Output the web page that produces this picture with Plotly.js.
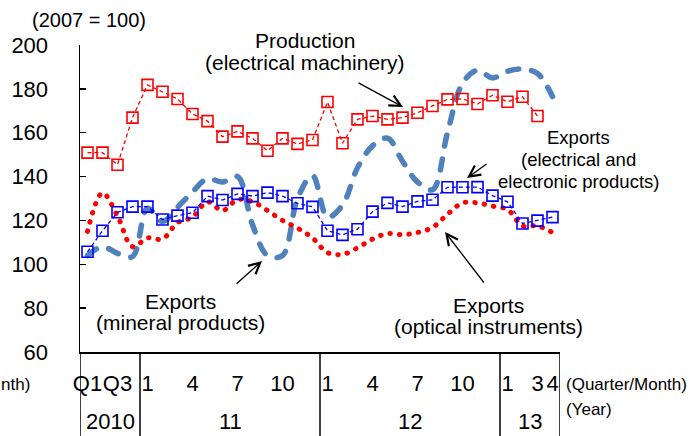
<!DOCTYPE html>
<html>
<head>
<meta charset="utf-8">
<script src="https://cdn.plot.ly/plotly-3.0.1.min.js"></script>
<style>
html,body{margin:0;padding:0;background:#fff;}
#chart{width:696px;height:436px;}
.tracemin .js-line, .traceopt .js-line { stroke-linecap: round; }
</style>
</head>
<body>
<div id="chart"></div>
<script>
// Periods: 2010 quarterly, then monthly 2011-01 .. 2013-04
const periods = [
  '2010Q1','2010Q2','2010Q3','2010Q4',
  '2011-01','2011-02','2011-03','2011-04','2011-05','2011-06','2011-07','2011-08','2011-09','2011-10','2011-11','2011-12',
  '2012-01','2012-02','2012-03','2012-04','2012-05','2012-06','2012-07','2012-08','2012-09','2012-10','2012-11','2012-12',
  '2013-01','2013-02','2013-03','2013-04'
];
// Production (electrical machinery) — ends March 2013
const production = [150.9,150.9,145.4,166.9,181.8,178.7,175.4,168.5,165.3,158.2,160.6,157.4,151.8,157.4,154.9,156.7,174.0,155.2,166.1,167.6,166.1,166.9,169.1,172.2,175.2,175.4,173.1,177.1,174.1,176.4,167.6];
// Exports (electrical and electronic products)
const electrical = [105.7,115.3,123.7,126.3,126.3,120.4,122.2,123.5,131.1,129.3,132.1,131.1,132.7,131.1,127.8,126.2,115.3,113.4,116.0,124.0,128.0,126.3,128.7,129.4,135.1,135.1,135.2,131.3,128.5,118.6,119.9,121.5];
// Exports (mineral products)
const mineral = [104,108,105,103.5,125.5,119.5,126,133,139,137.5,140,118,104,104,130,140.5,121.5,127,144,154,157.5,147,137.5,134,160,182.5,188.5,185,188,189,187,176.5];
// Exports (optical instruments)
const optical = [115,132.5,122,108,112,111.5,119,121.5,128.5,124.5,129.5,128.5,124.5,120,116.5,112,105.3,104.5,107.5,111.5,114,113.5,114.5,116.8,122.8,128,128,126.5,125,117.5,117.5,114.5];

const tickVals = ['2010Q1','2010Q3','2011-01','2011-04','2011-07','2011-10','2012-01','2012-04','2012-07','2012-10','2013-01','2013-03','2013-04'];
const tickText = ['Q1','Q3','1','4','7','10','1','4','7','10','1','3','4'];
const yTicks = [60,80,100,120,140,160,180,200];
const years = ['2010','11','12','13'];
const yearSizes = [4,12,12,4];

const NARROW = '"Liberation Sans Narrow", "Arial Narrow", "Liberation Sans", Arial, sans-serif';
const SANS = '"Liberation Sans", Arial, sans-serif';

// layout geometry (pixels)
const L = 80, R = 136, T = 45, B = 84, W = 696, H = 436;
const PW = W - L - R, PH = H - T - B;
const px = x => (x - L) / PW;
const py = y => (H - B - y) / PH;

const traces = [
  {x: periods.slice(0, mineral.length), y: mineral, type: 'scatter', mode: 'lines', uid: 'min',
   line: {color: '#4F81BD', width: 5.5, dash: '11px,13px', shape: 'spline', smoothing: 1}},
  {x: periods.slice(0, optical.length), y: optical, type: 'scatter', mode: 'lines', uid: 'opt',
   line: {color: '#FF0000', width: 5, dash: '0.5px,9px', shape: 'spline', smoothing: 1}},
  {x: periods.slice(0, electrical.length), y: electrical, type: 'scatter', mode: 'lines+markers', uid: 'ele',
   line: {color: '#0000FF', width: 1.3, dash: '4px,3px'},
   marker: {symbol: 'square-open', size: 11, color: '#0000FF', line: {width: 1.6, color: '#0000FF'}}},
  {x: periods.slice(0, production.length), y: production, type: 'scatter', mode: 'lines+markers', uid: 'pro',
   line: {color: '#FF0000', width: 1.3, dash: '4px,3px'},
   marker: {symbol: 'square-open', size: 11, color: '#FF0000', line: {width: 1.6, color: '#FF0000'}}}
];

const shapes = [];
const annotations = [];
// category dividers below the x axis
let start = 0;
const bounds = [-0.5];
yearSizes.forEach(n => { start += n; bounds.push(start - 0.5); });
bounds.forEach(b => shapes.push({type: 'line', xref: 'x', yref: 'paper', x0: b, x1: b, y0: 0, y1: -0.3,
  line: {color: 'black', width: 1.5}}));
// year labels
start = 0;
years.forEach((yr, i) => {
  const mid = start + (yearSizes[i] - 1) / 2;
  start += yearSizes[i];
  annotations.push({text: yr, xref: 'x', yref: 'paper', x: mid, y: py(421), showarrow: false,
    xanchor: 'center', yanchor: 'middle', font: {family: NARROW, size: 22, color: 'black'}});
});

function txt(t, x, y, size, anchor) {
  annotations.push({text: t, xref: 'paper', yref: 'paper', x: px(x), y: py(y), showarrow: false,
    xanchor: anchor || 'center', yanchor: 'middle', font: {family: SANS, size: size, color: 'black'}});
}
function arrow(tipX, tipY, tailX, tailY) {
  annotations.push({text: '', xref: 'paper', yref: 'paper', x: px(tipX), y: py(tipY),
    ax: tailX - tipX, ay: tailY - tipY, showarrow: true, arrowhead: 5, arrowsize: 1.7,
    arrowwidth: 1.3, arrowcolor: 'black', standoff: 0, startstandoff: 0});
}
txt('(2007 = 100)', 89, 20, 20);
txt('Production', 305, 40, 21);
txt('(electrical machinery)', 305, 62, 21);
txt('Exports', 578, 137, 18.5);
txt('(electrical and', 578, 159, 18.5);
txt('electronic products)', 578, 181, 18.5);
txt('Exports', 180, 301, 21);
txt('(mineral products)', 180, 322, 21);
txt('Exports', 488, 305, 21);
txt('(optical instruments)', 488, 326, 21);
txt('(Quarter/Month)', 564, 384, 17, 'left');
txt('(Year)', 564, 409, 17, 'left');
txt('nth)', 32, 384, 17, 'right');
arrow(403, 107, 357, 82);
arrow(467, 178, 488, 163);
arrow(262, 261, 235, 285);
arrow(445, 232, 485, 284);

const layout = {
  width: W, height: H,
  margin: {l: L, r: R, t: T, b: B, pad: 0},
  paper_bgcolor: 'white', plot_bgcolor: 'white',
  showlegend: false,
  font: {family: SANS, color: 'black'},
  xaxis: {type: 'category', categoryorder: 'array', categoryarray: periods,
    range: [-0.5, periods.length - 0.5], showgrid: false, zeroline: false,
    showline: true, linecolor: 'black', linewidth: 1.5, ticks: '',
    tickmode: 'array', tickvals: tickVals, ticktext: tickText, tickangle: 0,
    tickfont: {family: NARROW, size: 22, color: 'black'}, ticklabelstandoff: 11},
  yaxis: {range: [60, 200], showgrid: false, zeroline: false,
    showline: true, linecolor: 'black', linewidth: 1.5,
    ticks: 'inside', ticklen: 6, tickwidth: 1.5, tickcolor: 'black',
    tickmode: 'array', tickvals: yTicks,
    tickfont: {family: NARROW, size: 22, color: 'black'}, ticklabelstandoff: 26},
  shapes: shapes,
  annotations: annotations
};
Plotly.newPlot('chart', traces, layout, {displayModeBar: false, staticPlot: true});
</script>
</body>
</html>
